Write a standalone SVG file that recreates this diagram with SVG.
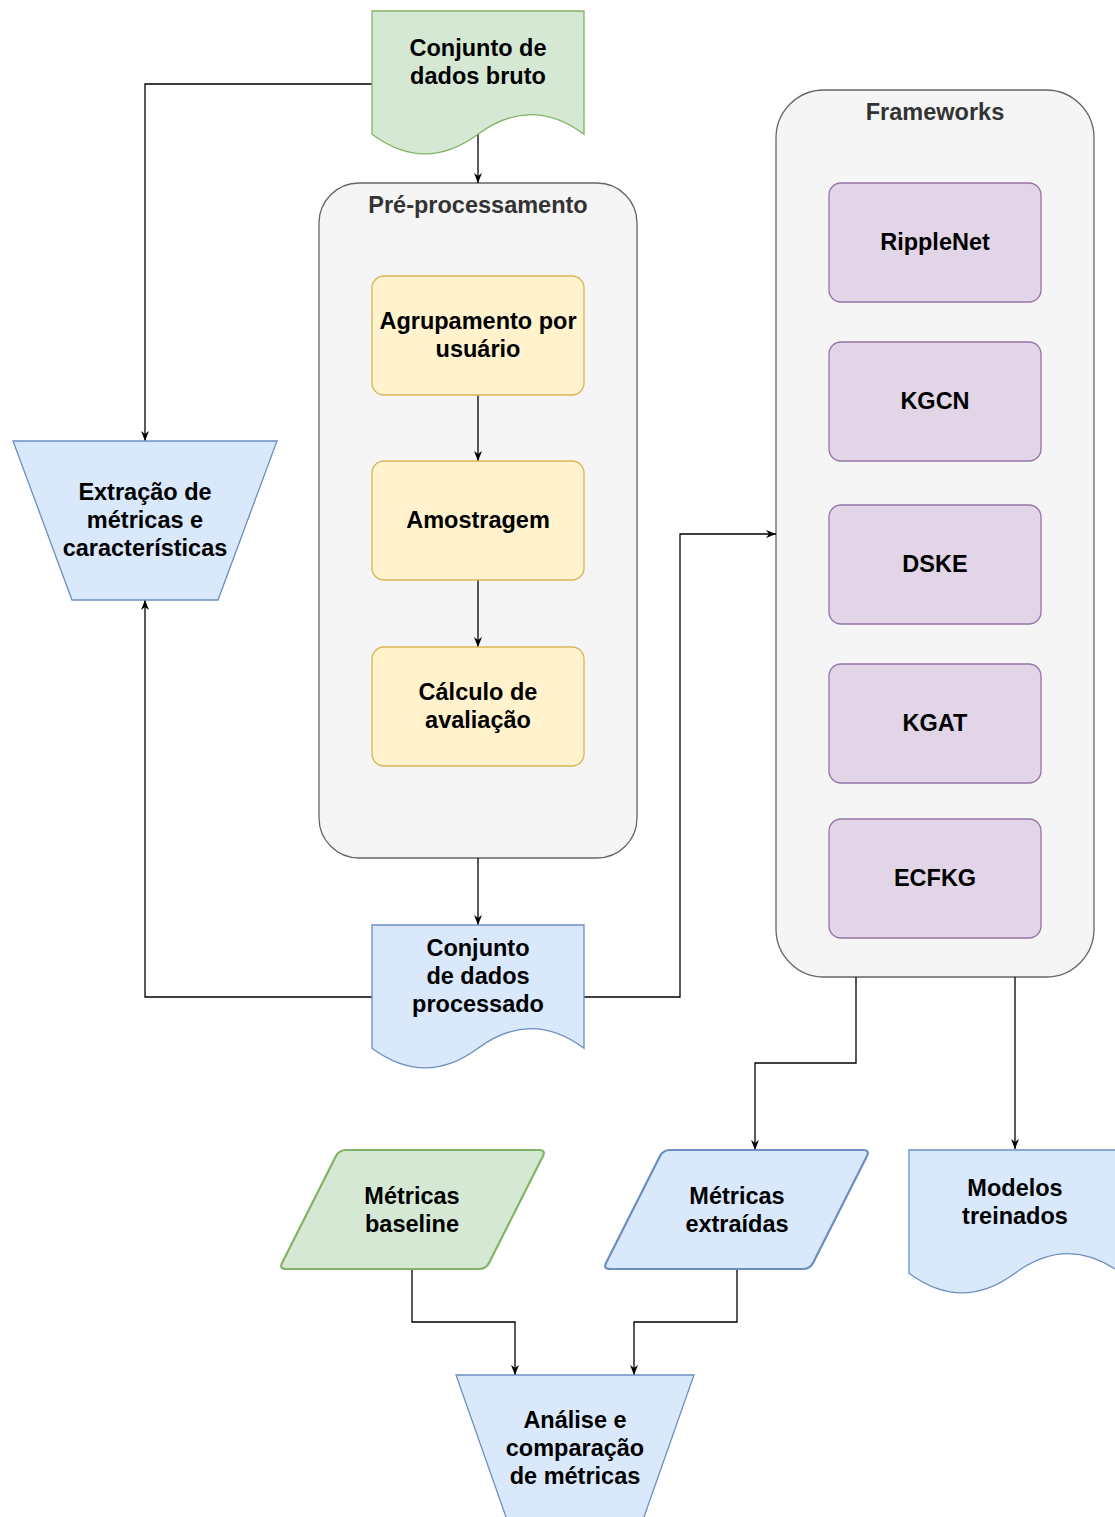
<svg xmlns="http://www.w3.org/2000/svg" width="1115" height="1517" viewBox="0 0 1115 1517">
  <defs>
    <marker id="arrow" markerUnits="userSpaceOnUse" viewBox="0 0 10 10" refX="10" refY="5" markerWidth="10" markerHeight="10" orient="auto">
      <path d="M0,1 L10,5 L0,9 L3,5 Z" fill="#000"/>
    </marker>
    <style>
      .lbl { font-family: "Liberation Sans", Arial, Helvetica, sans-serif; font-weight: bold; font-size: 23.5px; fill: #000; text-anchor: middle; }
      .title { fill: #333; }
      .container { fill: #f5f5f5; stroke: #666; stroke-width: 1.3; }
      .yellow { fill: #fff2cc; stroke: #d6b656; stroke-width: 1.3; }
      .purple { fill: #e1d5e7; stroke: #9673a6; stroke-width: 1.3; }
      .blue { fill: #dae8fc; stroke: #6c8ebf; stroke-width: 1.3; }
      .green { fill: #d5e8d4; stroke: #82b366; stroke-width: 1.3; }
      .thick { stroke-width: 2.2; }
      .edge { fill: none; stroke: #000; stroke-width: 1.3; marker-end: url(#arrow); }
    </style>
  </defs>

  <rect width="1115" height="1517" fill="#fff"/>

  <!-- containers -->
  <g id="preprocessamento">
    <rect class="container" x="319" y="183" width="318" height="675" rx="40" ry="40"/>
    <text class="lbl title" x="478" y="213">Pré-processamento</text>
  </g>
  <g id="frameworks">
    <rect class="container" x="776" y="90" width="318" height="887" rx="48" ry="48"/>
    <text class="lbl title" x="935" y="120">Frameworks</text>
  </g>

  <!-- connectors -->
  <g id="connectors">
    <path class="edge" d="M478,134 V183"/>
    <path class="edge" d="M372,84 H145 V441"/>
    <path class="edge" d="M478,395 V461"/>
    <path class="edge" d="M478,580 V647"/>
    <path class="edge" d="M478,858 V925"/>
    <path class="edge" d="M372,997 H145 V600"/>
    <path class="edge" d="M584,997 H680 V534 H776"/>
    <path class="edge" d="M856,977 V1063 H755 V1150"/>
    <path class="edge" d="M1015,977 V1149"/>
    <path class="edge" d="M412,1269 V1322 H515 V1375"/>
    <path class="edge" d="M737,1269 V1322 H634 V1375"/>
  </g>

  <!-- raw dataset -->
  <g id="dados-bruto">
    <path class="green" d="M372,11 L584,11 L584,134.25 Q531,95.1 478,134.25 Q425,173.4 372,134.25 Z"/>
    <text class="lbl" x="478" y="56">Conjunto de</text>
    <text class="lbl" x="478" y="84">dados bruto</text>
  </g>

  <!-- preprocessing steps -->
  <g id="agrupamento">
    <rect class="yellow" x="372" y="276" width="212" height="119" rx="12" ry="12"/>
    <text class="lbl" x="478" y="329">Agrupamento por</text>
    <text class="lbl" x="478" y="357">usuário</text>
  </g>
  <g id="amostragem">
    <rect class="yellow" x="372" y="461" width="212" height="119" rx="12" ry="12"/>
    <text class="lbl" x="478" y="528">Amostragem</text>
  </g>
  <g id="calculo">
    <rect class="yellow" x="372" y="647" width="212" height="119" rx="12" ry="12"/>
    <text class="lbl" x="478" y="700">Cálculo de</text>
    <text class="lbl" x="478" y="728">avaliação</text>
  </g>

  <!-- feature extraction -->
  <g id="extracao">
    <polygon class="blue" points="13,441 277,441 218,600 72,600"/>
    <text class="lbl" x="145" y="500">Extração de</text>
    <text class="lbl" x="145" y="528">métricas e</text>
    <text class="lbl" x="145" y="556">características</text>
  </g>

  <!-- processed dataset -->
  <g id="dados-processado">
    <path class="blue" d="M372,925 L584,925 L584,1048.25 Q531,1009.1 478,1048.25 Q425,1087.4 372,1048.25 Z"/>
    <text class="lbl" x="478" y="956">Conjunto</text>
    <text class="lbl" x="478" y="984">de dados</text>
    <text class="lbl" x="478" y="1012">processado</text>
  </g>

  <!-- frameworks -->
  <g id="ripplenet">
    <rect class="purple" x="829" y="183" width="212" height="119" rx="12" ry="12"/>
    <text class="lbl" x="935" y="250">RippleNet</text>
  </g>
  <g id="kgcn">
    <rect class="purple" x="829" y="342" width="212" height="119" rx="12" ry="12"/>
    <text class="lbl" x="935" y="409">KGCN</text>
  </g>
  <g id="dske">
    <rect class="purple" x="829" y="505" width="212" height="119" rx="12" ry="12"/>
    <text class="lbl" x="935" y="572">DSKE</text>
  </g>
  <g id="kgat">
    <rect class="purple" x="829" y="664" width="212" height="119" rx="12" ry="12"/>
    <text class="lbl" x="935" y="731">KGAT</text>
  </g>
  <g id="ecfkg">
    <rect class="purple" x="829" y="819" width="212" height="119" rx="12" ry="12"/>
    <text class="lbl" x="935" y="886">ECFKG</text>
  </g>

  <!-- outputs -->
  <g id="metricas-baseline">
    <path class="green thick" d="M346,1150 L539,1150 Q546,1150 542.85,1156.25 L489.15,1262.75 Q486,1269 479,1269 L286,1269 Q279,1269 282.15,1262.75 L335.85,1156.25 Q339,1150 346,1150 Z"/>
    <text class="lbl" x="412" y="1204">Métricas</text>
    <text class="lbl" x="412" y="1232">baseline</text>
  </g>
  <g id="metricas-extraidas">
    <path class="blue thick" d="M670,1150 L863,1150 Q870,1150 866.85,1156.25 L813.15,1262.75 Q810,1269 803,1269 L610,1269 Q603,1269 606.15,1262.75 L659.85,1156.25 Q663,1150 670,1150 Z"/>
    <text class="lbl" x="737" y="1204">Métricas</text>
    <text class="lbl" x="737" y="1232">extraídas</text>
  </g>
  <g id="modelos-treinados">
    <path class="blue" d="M909,1150 L1121,1150 L1121,1273.25 Q1068,1234.1 1015,1273.25 Q962,1312.4 909,1273.25 Z"/>
    <text class="lbl" x="1015" y="1196">Modelos</text>
    <text class="lbl" x="1015" y="1224">treinados</text>
  </g>

  <!-- analysis -->
  <g id="analise">
    <polygon class="blue" points="456,1375 694,1375 638,1534 512,1534"/>
    <text class="lbl" x="575" y="1428">Análise e</text>
    <text class="lbl" x="575" y="1456">comparação</text>
    <text class="lbl" x="575" y="1484">de métricas</text>
  </g>
</svg>
